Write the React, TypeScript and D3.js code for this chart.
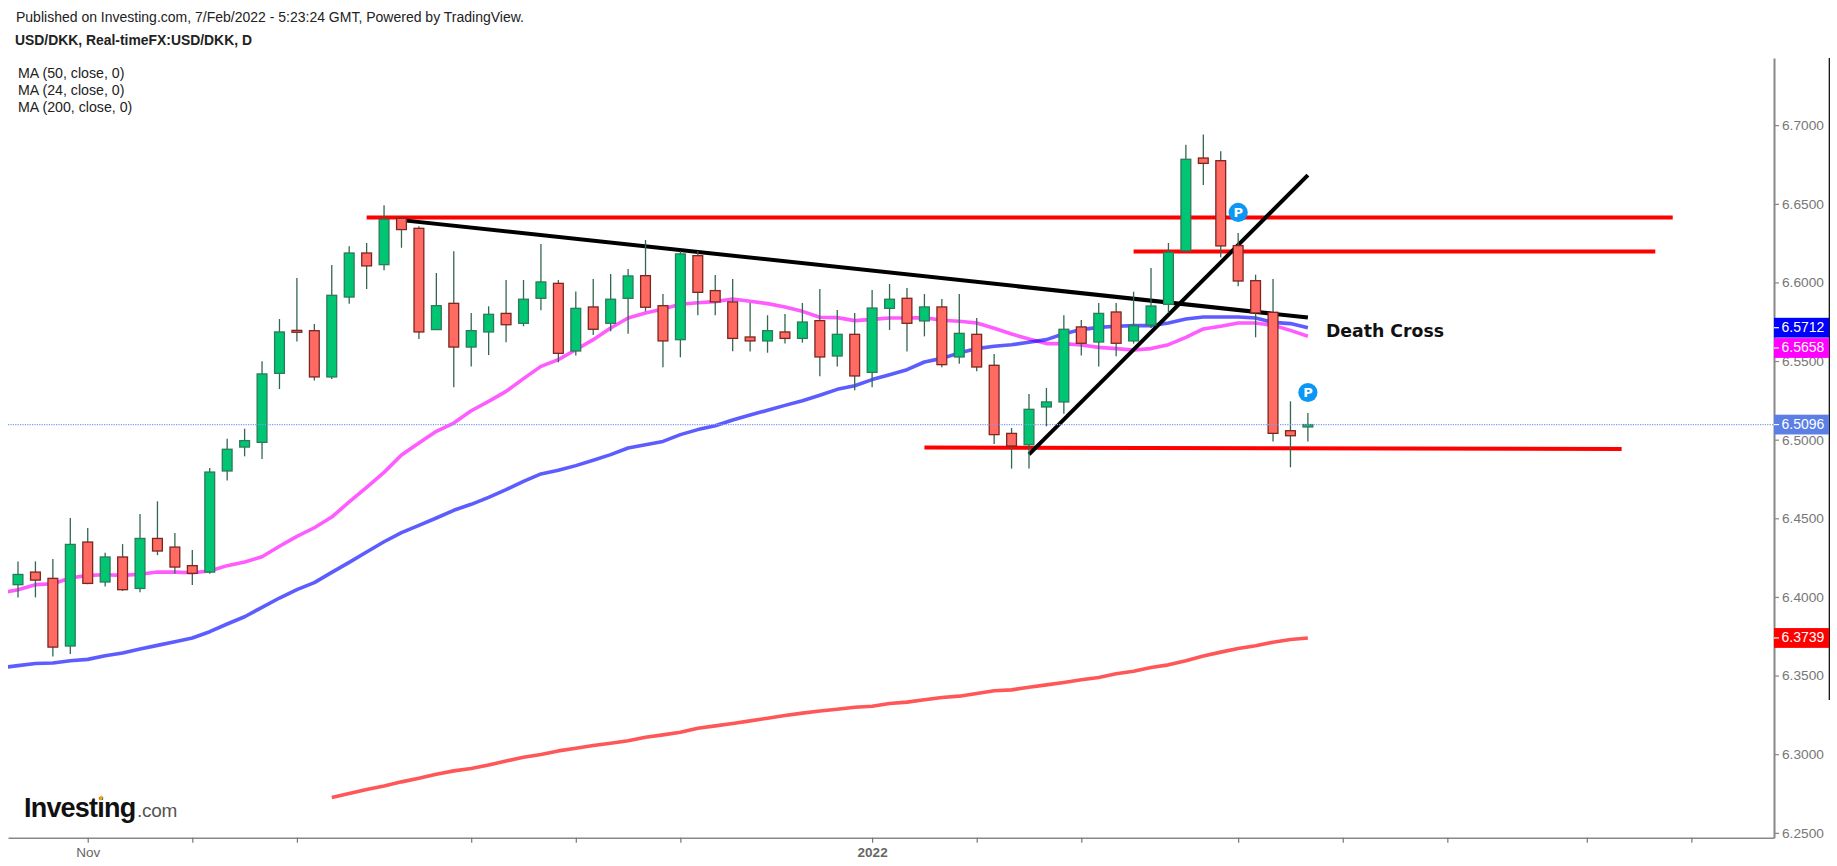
import { useEffect, useRef } from "react"
import * as d3 from "d3"

const WIDTH = 1837
const HEIGHT = 866

// daily candles, first one is late October 2021
const opens = [
  6.4078, 6.4158, 6.4118, 6.3688, 6.4349, 6.4095, 6.4254, 6.4054, 6.4372, 6.4317, 6.4199, 6.4158, 6.4801, 6.4953, 6.4983,
  6.5422, 6.5695, 6.5693, 6.5399, 6.5907, 6.6187, 6.6113, 6.6408, 6.6344, 6.57, 6.5867, 6.5589, 6.5685, 6.5803, 6.574,
  6.5899, 6.5994, 6.5564, 6.5844, 6.574, 6.5899, 6.6043, 6.5852, 6.5636, 6.617, 6.5948, 6.5876, 6.5653, 6.5628, 6.5685,
  6.5644, 6.5757, 6.5532, 6.567, 6.5428, 6.5835, 6.5899, 6.5755, 6.5844, 6.5526, 6.567, 6.5473, 6.504, 6.4968, 6.5208,
  6.524, 6.5717, 6.5621, 6.5812, 6.5628, 6.5729, 6.5861, 6.6202, 6.6791, 6.6774, 6.6234, 6.6011, 6.581, 6.5057, 6.5081,
]
const highs = [
  6.4226, 6.4226, 6.4241, 6.4502, 6.4438, 6.4281, 6.4336, 6.4527, 6.4608, 6.4406, 6.4298, 6.482, 6.5006, 6.507, 6.5498,
  6.5767, 6.6028, 6.5736, 6.6111, 6.623, 6.6251, 6.649, 6.641, 6.6357, 6.606, 6.6198, 6.5806, 6.5848, 6.6015, 6.6015,
  6.6244, 6.6015, 6.5943, 6.6022, 6.6054, 6.6085, 6.627, 6.5926, 6.6198, 6.6198, 6.6047, 6.6022, 6.5869, 6.5791, 6.5799,
  6.5869, 6.5958, 6.5825, 6.5806, 6.5952, 6.599, 6.5965, 6.5926, 6.5895, 6.5926, 6.5774, 6.5545, 6.5074, 6.529, 6.5329,
  6.5791, 6.5761, 6.5869, 6.5869, 6.5941, 6.6092, 6.6251, 6.6876, 6.694, 6.6834, 6.6314, 6.6049, 6.6022, 6.5244, 6.517,
]
const lows = [
  6.3997, 6.3997, 6.3622, 6.3637, 6.408, 6.4067, 6.4038, 6.4029, 6.4266, 6.4148, 6.4076, 6.4148, 6.4741, 6.4894, 6.4877,
  6.5322, 6.5625, 6.5377, 6.5386, 6.5865, 6.5958, 6.6077, 6.6221, 6.564, 6.57, 6.5333, 6.5466, 6.5538, 6.5619, 6.5721,
  6.5823, 6.5492, 6.5536, 6.5666, 6.5689, 6.5674, 6.5816, 6.546, 6.5524, 6.5791, 6.5791, 6.5562, 6.556, 6.5553, 6.5611,
  6.5617, 6.5403, 6.5466, 6.5314, 6.5333, 6.5697, 6.556, 6.5657, 6.546, 6.5483, 6.5435, 6.4972, 6.4816, 6.4816, 6.5085,
  6.5165, 6.5536, 6.5466, 6.553, 6.5611, 6.571, 6.5806, 6.6191, 6.662, 6.616, 6.5975, 6.5651, 6.4989, 6.4824, 6.4989,
]
const closes = [
  6.4143, 6.4107, 6.3681, 6.4334, 6.4086, 6.4254, 6.4046, 6.4372, 6.4292, 6.419, 6.415, 6.4794, 6.4939, 6.4994, 6.5418,
  6.5685, 6.5683, 6.5399, 6.5918, 6.6187, 6.6105, 6.6401, 6.6336, 6.5685, 6.5852, 6.5589, 6.5693, 6.5797, 6.5731, 6.5893,
  6.6003, 6.5549, 6.5835, 6.5702, 6.5893, 6.6041, 6.5842, 6.5628, 6.6181, 6.5937, 6.5876, 6.5644, 6.5628, 6.5693, 6.5644,
  6.5748, 6.5526, 6.567, 6.5405, 6.5837, 6.5893, 6.574, 6.5844, 6.5477, 6.5676, 6.5462, 6.5032, 6.496, 6.5193, 6.524,
  6.5702, 6.5613, 6.5803, 6.5613, 6.5725, 6.585, 6.6191, 6.6783, 6.6757, 6.6232, 6.6009, 6.5806, 6.504, 6.5025, 6.5096,
]

// these two start one bar before the first candle, the left edge clips them
const ma50 = [
  6.355, 6.3563, 6.3577, 6.358, 6.3594, 6.3603, 6.3626, 6.3643, 6.3669, 6.3692, 6.3715, 6.3739, 6.3779, 6.3828, 6.3874,
  6.3934, 6.3993, 6.4046, 6.4091, 6.4156, 6.422, 6.4286, 6.4351, 6.4409, 6.4455, 6.4502, 6.4551, 6.4589, 6.4633, 6.4682,
  6.4735, 6.4782, 6.4805, 6.4835, 6.4869, 6.4905, 6.4947, 6.4968, 6.4989, 6.5032, 6.5064, 6.5089, 6.5125, 6.5157, 6.5187,
  6.5218, 6.5248, 6.5282, 6.532, 6.5343, 6.5382, 6.5413, 6.5445, 6.5494, 6.5517, 6.5551, 6.5579, 6.5594, 6.5604, 6.5619,
  6.5636, 6.5674, 6.57, 6.5714, 6.5721, 6.5725, 6.5725, 6.5742, 6.5767, 6.578, 6.578, 6.578, 6.5774, 6.5746, 6.5738, 6.5712,
]
const ma24 = [
  6.4025, 6.4046, 6.4078, 6.4084, 6.412, 6.4137, 6.4141, 6.4137, 6.4144, 6.4158, 6.4158, 6.4154, 6.4165, 6.4199, 6.4222,
  6.4256, 6.4322, 6.4385, 6.444, 6.4508, 6.4604, 6.4697, 6.4792, 6.4902, 6.4979, 6.5053, 6.5106, 6.5184, 6.5244, 6.5307,
  6.5388, 6.5466, 6.5509, 6.5572, 6.5636, 6.571, 6.5774, 6.5806, 6.5831, 6.5861, 6.5871, 6.5878, 6.5895, 6.588, 6.5865,
  6.5844, 6.5816, 6.5778, 6.5776, 6.5757, 6.5765, 6.5774, 6.5774, 6.5776, 6.5759, 6.5753, 6.5742, 6.5708, 6.5672, 6.564,
  6.5611, 6.5611, 6.5602, 6.5587, 6.5579, 6.557, 6.5579, 6.5604, 6.5651, 6.5704, 6.5721, 6.5742, 6.5742, 6.5727, 6.5695, 6.5658,
]
// starts at candle 18
const ma200 = [
  6.2724, 6.275, 6.2775, 6.2798, 6.2824, 6.2847, 6.2873, 6.2894, 6.2909, 6.2932, 6.2957, 6.2981, 6.2998, 6.3021, 6.3038,
  6.3055, 6.307, 6.3085, 6.3108, 6.3123, 6.314, 6.3165, 6.318, 6.3195, 6.3212, 6.3229, 6.3246, 6.3261, 6.3275, 6.3286,
  6.3299, 6.3305, 6.3322, 6.3331, 6.3346, 6.336, 6.3369, 6.3386, 6.3403, 6.3409, 6.3426, 6.3441, 6.3456, 6.3473, 6.3488,
  6.3511, 6.3528, 6.3551, 6.3568, 6.3594, 6.3625, 6.3649, 6.3672, 6.3689, 6.3712, 6.3729, 6.3739,
]

const priceTicks = [6.25, 6.3, 6.35, 6.4, 6.45, 6.5, 6.55, 6.6, 6.65, 6.7]
const timeTicks = [4, 10, 16, 26, 32, 38, 49, 55, 61, 70, 76, 82, 90, 96]
const timeLabels: Record<number, string> = { 4: "Nov", 49: "2022" }

// hand drawn lines: [bar, price, bar, price]
const redLines = [
  [20, 6.6412, 94.93, 6.6412],
  [64, 6.6197, 93.93, 6.6197],
  [52, 6.495, 92, 6.4941],
]
const blackLines = [
  [22, 6.6396, 74, 6.5777],
  [58, 6.4906, 74, 6.6682],
]
const publishMarks = [
  [70, 6.6445],
  [74, 6.53],
]

const lastPrice = 6.5096
const legendLines = ["MA (50, close, 0)", "MA (24, close, 0)", "MA (200, close, 0)"]

export default function App() {
  const svgRef = useRef<SVGSVGElement>(null)

  useEffect(() => {
    if (!svgRef.current) return
    const svg = d3.select(svgRef.current)
    svg.selectAll("*").remove()

    const sans = "'Liberation Sans', Arial, sans-serif"
    const left = 8
    const right = 1774
    const top = 58
    const bottom = 837.7

    const x = d3.scaleLinear().domain([-0.574, 100.74]).range([left, right])
    const y = d3.scaleLinear().domain([6.2469, 6.7427]).range([bottom, top])

    const defs = svg.append("defs")
    defs.append("clipPath").attr("id", "plot").append("rect")
      .attr("x", left).attr("y", top).attr("width", right - left).attr("height", bottom - top)
    defs.append("clipPath").attr("id", "axis-area").append("rect")
      .attr("x", right - 2).attr("y", top).attr("width", 70).attr("height", bottom - top + 1)

    svg.append("rect").attr("width", WIDTH).attr("height", HEIGHT).attr("fill", "#ffffff")

    // header
    svg.append("text").attr("x", 16).attr("y", 22).attr("font-family", sans).attr("font-size", 14).attr("fill", "#222")
      .text("Published on Investing.com, 7/Feb/2022 - 5:23:24 GMT, Powered by TradingView.")
    svg.append("text").attr("x", 15).attr("y", 45).attr("font-family", sans).attr("font-size", 13.9)
      .attr("font-weight", "bold").attr("fill", "#222")
      .text("USD/DKK, Real-timeFX:USD/DKK, D")
    svg.selectAll(".legend").data(legendLines).enter().append("text")
      .attr("x", 18).attr("y", (d, i) => 77.7 + i * 17).attr("font-family", sans).attr("font-size", 14.2).attr("fill", "#222")
      .text((d) => d)

    // logo
    svg.append("text").attr("x", 24).attr("y", 817).attr("font-family", sans).attr("font-size", 27)
      .attr("font-weight", "bold").attr("letter-spacing", -0.8).attr("fill", "#111").text("Investing")
    svg.append("text").attr("x", 137).attr("y", 817).attr("font-family", sans).attr("font-size", 19)
      .attr("letter-spacing", -0.3).attr("fill", "#555").text(".com")
    svg.append("ellipse").attr("cx", 101).attr("cy", 798).attr("rx", 1.6).attr("ry", 2.6)
      .attr("transform", "rotate(25 101 798)").attr("fill", "#f5a623")

    // axes
    const yAxisArea = svg.append("g").attr("clip-path", "url(#axis-area)")
    const yAxis = yAxisArea.append("g").attr("transform", `translate(${right},0)`)
      .call(d3.axisRight(y).tickValues(priceTicks).tickFormat(d3.format(".4f")).tickSize(5).tickSizeOuter(0).tickPadding(3))
    yAxis.select(".domain").attr("stroke", "#888").attr("stroke-width", 2)
    yAxis.selectAll("line").attr("stroke", "#888").attr("stroke-width", 1.2)
    yAxis.selectAll("text").attr("font-family", sans).attr("font-size", 13.7).attr("fill", "#777")

    const xAxis = svg.append("g").attr("transform", `translate(0,${bottom})`)
      .call(
        d3.axisBottom(x).tickValues(timeTicks)
          .tickFormat((d) => timeLabels[d as number] || "")
          .tickSize(5).tickSizeOuter(0).tickPadding(4.5),
      )
    xAxis.select(".domain").attr("stroke", "#888").attr("stroke-width", 1.6)
    xAxis.selectAll("line").attr("stroke", "#777").attr("stroke-width", 1.2)
    xAxis.selectAll("text").attr("font-family", sans).attr("font-size", 13.5).attr("fill", "#666")
      .attr("font-weight", (d) => (d === 49 ? "bold" : "normal"))

    svg.append("line").attr("x1", 1829.3).attr("x2", 1829.3).attr("y1", top).attr("y2", 700)
      .attr("stroke", "#000").attr("stroke-width", 1.2)

    const plot = svg.append("g").attr("clip-path", "url(#plot)")

    // moving averages
    const maLine = (startBar: number) =>
      d3.line<number>().x((d, i) => x(startBar + i)).y((d) => y(d))
    const drawMa = (values: number[], startBar: number, color: string) =>
      plot.append("path").attr("d", maLine(startBar)(values)).attr("fill", "none")
        .attr("stroke", color).attr("stroke-width", 3.6).attr("stroke-linejoin", "round")
    drawMa(ma200, 18, "rgba(255,0,0,0.66)")
    drawMa(ma24, -1, "rgba(255,0,255,0.64)")
    drawMa(ma50, -1, "rgba(0,0,255,0.64)")

    // trend lines
    const drawSegments = (rows: number[][], color: string) =>
      plot.selectAll(null).data(rows).enter().append("line")
        .attr("x1", (d) => x(d[0])).attr("y1", (d) => y(d[1]))
        .attr("x2", (d) => x(d[2])).attr("y2", (d) => y(d[3]))
        .attr("stroke", color).attr("stroke-width", 4)
    drawSegments(redLines, "#ff0000")
    drawSegments(blackLines, "#000000")

    // candles
    const candles = d3.range(opens.length).map((i) => ({
      i,
      open: opens[i],
      high: highs[i],
      low: lows[i],
      close: closes[i],
    }))
    plot.selectAll(".wick").data(candles).enter().append("line").attr("class", "wick")
      .attr("x1", (d) => x(d.i)).attr("x2", (d) => x(d.i))
      .attr("y1", (d) => y(d.high)).attr("y2", (d) => y(d.low))
      .attr("stroke", "#35664f").attr("stroke-width", 1.3)
    plot.selectAll(".body").data(candles).enter().append("rect").attr("class", "body")
      .attr("x", (d) => x(d.i) - 4.9).attr("width", 9.8)
      .attr("y", (d) => y(Math.max(d.open, d.close)))
      .attr("height", (d) => Math.abs(y(d.open) - y(d.close)))
      .attr("fill", (d) => (d.close >= d.open ? "#00c572" : "#ff6a62"))
      .attr("stroke", (d) => (d.close >= d.open ? "#2c7a5a" : "#7c2620"))
      .attr("stroke-width", 1.3)

    // last price line
    plot.append("line").attr("x1", left).attr("x2", right).attr("y1", y(lastPrice)).attr("y2", y(lastPrice))
      .attr("stroke", "#7d9df0").attr("stroke-width", 1.2).attr("stroke-dasharray", "1.2,1.2")

    // publish markers
    const marks = svg.selectAll(".mark").data(publishMarks).enter().append("g").attr("class", "mark")
      .attr("transform", (d) => `translate(${x(d[0])},${y(d[1])})`)
    marks.append("circle").attr("r", 9.6).attr("fill", "#0c96f6")
    marks.append("text").attr("text-anchor", "middle").attr("y", 5).attr("font-family", "'DejaVu Sans', sans-serif")
      .attr("font-size", 13).attr("font-weight", "bold").attr("fill", "#fff").text("P")

    svg.append("text").attr("x", 1326).attr("y", 336.5).attr("font-family", "'DejaVu Sans', sans-serif")
      .attr("font-size", 17.3).attr("font-weight", "bold").attr("fill", "#111").text("Death Cross")

    // value tags on the price axis, the pink one is pushed down by the blue one
    const tags = [
      { value: ma50[ma50.length - 1], color: "#0000ff", shift: 0 },
      { value: ma24[ma24.length - 1], color: "#ff00ff", shift: 11.8 },
      { value: lastPrice, color: "#5c7fe6", shift: 0 },
      { value: ma200[ma200.length - 1], color: "#ff0000", shift: 0 },
    ]
    const tag = svg.selectAll(".tag").data(tags).enter().append("g").attr("class", "tag")
      .attr("transform", (d) => `translate(${right},${y(d.value) + d.shift})`)
    tag.append("rect").attr("x", 0).attr("y", -9.9).attr("width", 55).attr("height", 19.8).attr("fill", (d) => d.color)
    tag.append("line").attr("x1", 0).attr("x2", 5).attr("stroke", "#fff").attr("stroke-width", 1.2)
    tag.append("text").attr("x", 7.5).attr("dy", "0.32em").attr("font-family", sans).attr("font-size", 14)
      .attr("fill", "#fff").text((d) => d.value.toFixed(4))
  }, [])

  return <svg ref={svgRef} width={WIDTH} height={HEIGHT} style={{ position: "absolute", left: 0, top: 0, display: "block" }} />
}
